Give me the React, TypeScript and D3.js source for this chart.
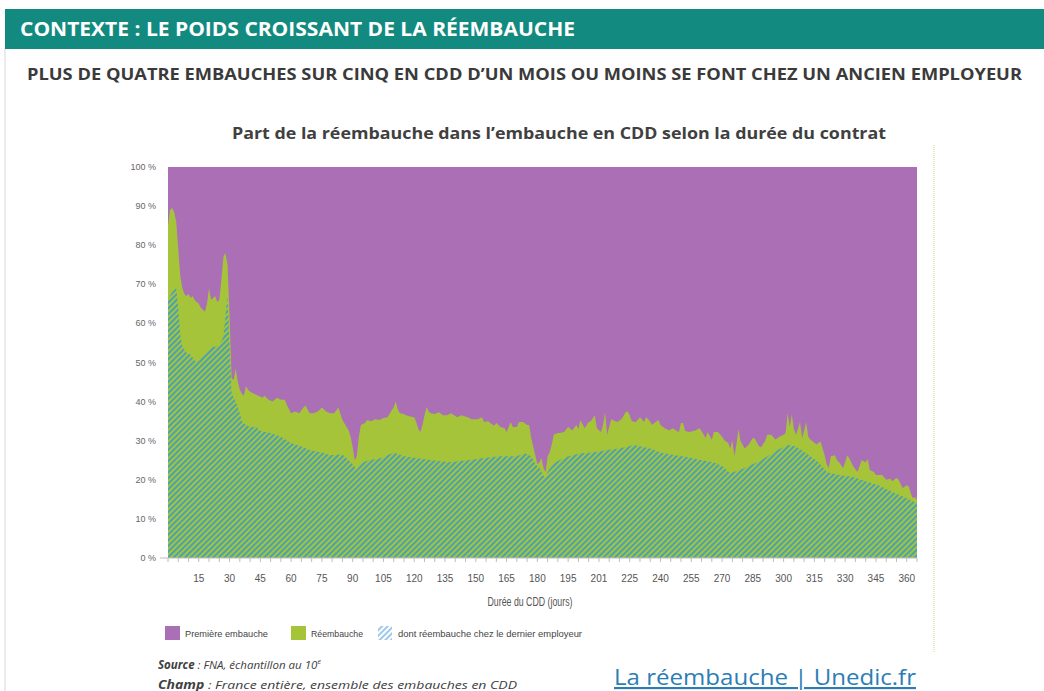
import React from 'react'
import * as d3 from 'd3'

// part de la réembauche (réembauche totale), en % des embauches, par durée du CDD (jours)
const reembauche: [number, number][] = [
  [0, 85], [1, 89], [2, 89.5], [3, 88.5], [4, 86], [5, 79], [6, 72], [7, 69], [8, 67.5], [9, 67],
  [10, 67.5], [11, 66.5], [12, 67], [13, 66], [14, 65.5], [15, 65], [16, 64], [17, 63.5], [18, 63],
  [19, 65], [20, 69], [21, 66], [22, 66.5], [23, 67], [24, 65.5], [25, 66], [26, 71], [27, 77],
  [28, 78], [29, 75], [30, 62], [31, 46], [32, 45.5], [33, 48.5], [34, 45], [35, 43], [36, 42],
  [37, 41.5], [38, 44], [39, 43], [40, 42.5], [42, 42], [44, 41.5], [46, 41], [47, 41.5], [49, 40.5],
  [51, 40], [53, 41], [55, 40.5], [57, 40.5], [58, 39], [60, 37], [62, 37.5], [64, 37], [66, 38.5],
  [67, 39], [69, 37], [71, 37], [73, 37.5], [75, 38.5], [77, 37.5], [79, 37], [81, 37], [83, 38.5],
  [85, 35.3], [87, 33.5], [88, 32.7], [89, 31], [90, 28.4], [91, 25], [92, 26], [93, 31], [94, 34],
  [96, 34.5], [97, 35.3], [99, 35], [101, 35.5], [103, 35.3], [105, 35.8], [107, 36], [109, 37.8],
  [110, 38.5], [111, 40], [112, 38], [113, 37], [115, 36.8], [116, 36.5], [118, 36.2], [120, 36],
  [121, 34.8], [122, 33], [123, 32.2], [124, 34], [125, 36.5], [126, 38.6], [127, 37.5], [128, 37],
  [130, 36.8], [132, 37.3], [134, 36.5], [136, 36.5], [138, 37], [141, 36], [143, 36.5], [146, 36],
  [148, 35.5], [151, 35.5], [153, 36], [154, 34.8], [156, 35], [157, 34.5], [159, 33.8], [160, 34.5],
  [162, 33.5], [164, 33.2], [165, 32.2], [167, 34.8], [168, 33.5], [170, 33.5], [171, 34.8],
  [173, 34.8], [175, 34], [176, 34], [177, 30.7], [179, 26.3], [180, 24], [181, 24.5], [182, 25.6],
  [183, 23], [184, 22], [185, 26], [186, 27], [187, 29], [188, 31.5], [190, 32], [191, 32],
  [193, 32.2], [195, 33.5], [197, 32.6], [199, 34], [200, 33], [201, 35.3], [203, 33.2], [205, 34.8],
  [206, 35], [208, 36.5], [209, 33.2], [211, 32.2], [212, 34], [213, 37.3], [214, 31.5], [216, 35.5],
  [218, 35], [219, 34.8], [221, 35.5], [223, 37.3], [224, 37.5], [225, 36.5], [226, 35], [228, 34.8],
  [230, 36], [232, 34.8], [233, 36], [234, 35.5], [236, 34], [237, 34.5], [239, 35.3], [240, 34],
  [242, 33.2], [243, 33], [244, 32.6], [246, 33.2], [248, 32.5], [249, 32.2], [250, 34.5], [251, 34.5],
  [252, 32.5], [254, 32.2], [257, 32.6], [259, 33.2], [260, 32.5], [262, 30.7], [263, 32.2],
  [265, 30.2], [266, 32.2], [268, 32.2], [270, 31], [271, 30.2], [273, 29.4], [274, 28], [275, 30.2],
  [276, 26], [277, 29], [278, 33], [279, 30], [281, 28], [283, 29], [285, 30.7], [286, 30.5],
  [288, 28.6], [289, 28.3], [291, 30], [292, 31.5], [294, 31.5], [296, 30.3], [298, 31], [300, 31.5],
  [301, 32], [302, 37], [303, 33.5], [304, 36.7], [305, 33], [306, 31.5], [307, 33], [308, 34.8],
  [309, 30.7], [310, 32.5], [311, 34.8], [312, 31], [313, 30.3], [315, 29.5], [316, 29], [318, 29.8],
  [319, 28], [320, 26.3], [321, 24], [322, 23], [323, 26], [325, 26.3], [326, 25], [327, 24.5],
  [329, 23], [330, 24.5], [331, 26.3], [332, 25.5], [334, 23.4], [336, 22], [338, 25], [340, 24.5],
  [341, 25.3], [342, 22.5], [344, 22], [345, 21.2], [348, 21.2], [350, 20], [352, 20.3], [353, 19.6],
  [355, 20.5], [356, 20], [358, 17.9], [360, 18.6], [361, 18.3], [362, 16.5], [363, 15.3],
  [364, 15.6], [365, 14.8],
]

// dont réembauche chez le dernier employeur
const dernierEmployeur: [number, number][] = [
  [0, 66], [2, 68], [4, 69], [5, 64], [6, 57], [7, 54], [9, 52.5], [11, 52], [13, 50.5], [14, 50],
  [15, 50.5], [17, 51.5], [19, 52.5], [21, 54], [23, 54], [25, 54.5], [27, 56.5], [28, 62], [29, 67],
  [30, 55], [31, 42], [33, 40], [35, 37], [36, 35], [38, 34], [40, 33.5], [43, 33.5], [45, 32.5],
  [50, 32], [55, 31], [60, 29.4], [65, 28.5], [69, 27.6], [75, 27], [79, 26.3], [85, 26.5], [88, 25],
  [90, 24], [92, 22.5], [94, 24.3], [98, 25], [104, 25.6], [110, 27], [115, 26], [121, 25.6],
  [129, 25], [137, 24.5], [146, 25], [154, 25.6], [162, 26], [170, 26], [174, 26.8], [177, 26],
  [179, 24], [181, 23], [183, 21], [184, 20.5], [185, 22], [188, 24.3], [194, 25.8], [201, 26.8],
  [207, 27], [214, 27.6], [220, 28], [227, 28.9], [230, 28.6], [235, 28], [240, 27], [247, 26.3],
  [253, 25.8], [260, 25], [266, 24.5], [270, 23.5], [274, 21.7], [281, 23], [289, 25], [297, 27.6],
  [302, 28.9], [306, 28.5], [311, 26.8], [317, 24.5], [321, 22], [327, 21.2], [334, 20.7],
  [340, 19.6], [346, 18.7], [353, 16.9], [360, 15.3], [365, 14],
]

const yTicks = [0, 10, 20, 30, 40, 50, 60, 70, 80, 90, 100]
const xTickDays = [15, 30, 45, 60, 75, 90, 105, 120, 135, 150, 165, 180, 195, 210, 225, 240, 255, 270, 285, 300, 315, 330, 345, 360]
const xTickLabels = ['15', '30', '45', '60', '75', '90', '105', '120', '135', '150', '165', '180', '195', '201', '225', '240', '255', '270', '285', '300', '315', '330', '345', '360']

const legendItems = ['Première embauche', 'Réembauche', 'dont réembauche chez le dernier employeur']

const PURPLE = '#ab6fb5'
const GREEN = '#a6c43a'
const HATCH = '#3f9ec0'
const TEAL = '#128a7f'

export default function App() {
  const x = d3.scaleLinear().domain([0, 365]).range([168, 917])
  const y = d3.scaleLinear().domain([0, 100]).range([558, 167])

  const area = d3.area<[number, number]>()
    .x(d => x(d[0]))
    .y0(y(0))
    .y1(d => y(d[1]))

  const minorTicks = d3.range(0, 366, 5)

  const narrow = '"Liberation Sans", Arial, sans-serif'
  const calibri = '"Open Sans", "Noto Sans", sans-serif'

  return (
    <svg width={1044} height={691} style={{ position: 'absolute', left: 0, top: 0, background: '#fff' }}>
      <defs>
        <pattern id="hatch" width="4" height="4" patternUnits="userSpaceOnUse" patternTransform="rotate(45)">
          <rect width="4" height="4" fill={GREEN} />
          <line x1="1" y1="0" x2="1" y2="4" stroke={HATCH} strokeWidth="1.8" />
        </pattern>
        <pattern id="hatchLegend" width="4" height="4" patternUnits="userSpaceOnUse" patternTransform="rotate(45)">
          <rect width="4" height="4" fill="#fff" />
          <line x1="1" y1="0" x2="1" y2="4" stroke="#7fb6e2" strokeWidth="1.5" />
        </pattern>
      </defs>

      {/* cadre */}
      <line x1={5} y1={48} x2={5} y2={691} stroke="#d6d6d6" />
      <rect x={5} y={9} width={1039} height={40} fill={TEAL} />
      <text x={20} y={36} fill="#fff" fontFamily={calibri} fontWeight={700} fontSize={19}
        textLength={555} lengthAdjust="spacingAndGlyphs">CONTEXTE : LE POIDS CROISSANT DE LA RÉEMBAUCHE</text>

      <text x={27} y={80} fill="#3a3a3a" fontFamily={calibri} fontWeight={700} fontSize={16}
        textLength={995} lengthAdjust="spacingAndGlyphs">PLUS DE QUATRE EMBAUCHES SUR CINQ EN CDD D’UN MOIS OU MOINS SE FONT CHEZ UN ANCIEN EMPLOYEUR</text>

      <text x={232} y={139} fill="#404040" fontFamily={calibri} fontWeight={700} fontSize={16.5}
        textLength={654} lengthAdjust="spacingAndGlyphs">Part de la réembauche dans l’embauche en CDD selon la durée du contrat</text>

      {/* zone du graphique */}
      <rect x={x(0)} y={y(100)} width={x(365) - x(0)} height={y(0) - y(100)} fill={PURPLE} />
      <path d={area(reembauche) || ''} fill={GREEN} />
      <path d={area(dernierEmployeur) || ''} fill="url(#hatch)" />

      {/* axe des abscisses */}
      <line x1={160} y1={y(0)} x2={x(365)} y2={y(0)} stroke="#bdbdbd" />
      {minorTicks.map(d => (
        <line key={d} x1={x(d)} x2={x(d)} y1={y(0)} y2={y(0) + 4} stroke="#bdbdbd" />
      ))}
      {xTickDays.map((d, i) => (
        <text key={d} x={x(d)} y={582} textAnchor="middle" fill="#555" fontFamily={narrow} fontSize={10}>{xTickLabels[i]}</text>
      ))}
      <text x={530} y={606} textAnchor="middle" fill="#555" fontFamily={narrow} fontSize={12}
        textLength={85} lengthAdjust="spacingAndGlyphs">Durée du CDD (jours)</text>

      {/* axe des ordonnées */}
      {yTicks.map(t => (
        <text key={t} x={156} y={y(t) + 3} textAnchor="end" fill="#666" fontFamily={narrow} fontSize={9}>{`${t} %`}</text>
      ))}

      {/* légende */}
      <rect x={165} y={626} width={15} height={14} fill={PURPLE} />
      <text x={185} y={637} fill="#444" fontFamily={narrow} fontSize={9.5} textLength={83} lengthAdjust="spacingAndGlyphs">{legendItems[0]}</text>
      <rect x={291} y={626} width={15} height={14} fill={GREEN} />
      <text x={311} y={637} fill="#444" fontFamily={narrow} fontSize={9.5} textLength={52} lengthAdjust="spacingAndGlyphs">{legendItems[1]}</text>
      <rect x={378} y={626} width={14} height={14} fill="url(#hatchLegend)" />
      <text x={398} y={637} fill="#444" fontFamily={narrow} fontSize={9.5} textLength={184} lengthAdjust="spacingAndGlyphs">{legendItems[2]}</text>

      {/* séparateur pointillé */}
      <line x1={934} y1={145} x2={934} y2={652} stroke="#c9d98f" strokeDasharray="1 1" />

      {/* sources */}
      <text x={158} y={669} fill="#404040" fontFamily={calibri} fontStyle="italic" fontSize={11.5}>
        <tspan fontWeight={700}>Source</tspan> : FNA, échantillon au 10<tspan dy={-5} fontSize={7}>e</tspan>
      </text>
      <text x={158} y={689} fill="#404040" fontFamily={calibri} fontStyle="italic" fontSize={11.5}
        textLength={359} lengthAdjust="spacingAndGlyphs">
        <tspan fontWeight={700}>Champ</tspan> : France entière, ensemble des embauches en CDD
      </text>

      <text x={614} y={685} fill="#2b7db3" fontFamily={calibri} fontSize={21.5} textDecoration="underline"
        textLength={302} lengthAdjust="spacingAndGlyphs">La réembauche | Unedic.fr</text>
    </svg>
  )
}
